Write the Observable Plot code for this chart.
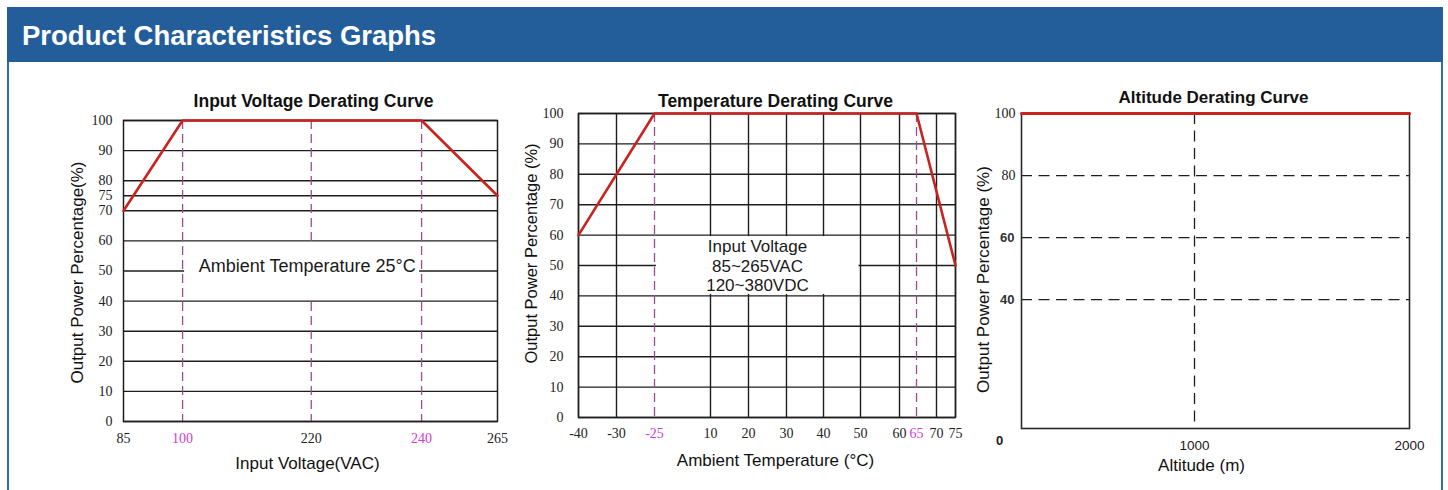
<!DOCTYPE html>
<html>
<head>
<meta charset="utf-8">
<script src="https://cdn.jsdelivr.net/npm/d3@7"></script>
<script src="https://cdn.jsdelivr.net/npm/@observablehq/plot@0.6"></script>
<style>
  html, body { margin: 0; padding: 0; background: #fff; }
  body { width: 1448px; height: 490px; overflow: hidden; position: relative; font-family: "Liberation Sans", Arial, sans-serif; }
  #header { position: absolute; left: 7px; top: 7px; width: 1436px; height: 55px; background: #235e9b; color: #fff;
            font-weight: bold; font-size: 27.5px; line-height: 55px; box-sizing: border-box; padding-left: 15px; padding-top: 1px; }
  .side { position: absolute; top: 62px; width: 2px; height: 430px; background: #2f6db2; }
  .chart { position: absolute; top: 80px; }
  .chart svg { display: block; max-width: none; }
</style>
</head>
<body>
<div id="header">Product Characteristics Graphs</div>
<div class="side" style="left:7px"></div>
<div class="side" style="left:1441px"></div>
<div class="chart" id="c1" style="left:60px;width:450px"></div>
<div class="chart" id="c2" style="left:510px;width:460px"></div>
<div class="chart" id="c3" style="left:970px;width:470px"></div>
<script>
// ---------------- DATA ----------------
// Chart 1: Input Voltage Derating Curve
const voltTitle = "Input Voltage Derating Curve";
const voltXLabel = "Input Voltage(VAC)";
const voltYLabel = "Output Power Percentage(%)";
const voltCurveX = [85, 100, 240, 265];
const voltCurveY = [70, 100, 100, 75];
const voltXTicks = [85, 100, 220, 240, 265];
const voltXHighlight = [100, 240];
const voltDashed = [100, 220, 240];
const voltYTicks = [0, 10, 20, 30, 40, 50, 60, 70, 75, 80, 90, 100];
const voltNote = "Ambient Temperature 25°C";

// Chart 2: Temperature Derating Curve
const tempTitle = "Temperature Derating Curve";
const tempXLabel = "Ambient Temperature (°C)";
const tempYLabel = "Output Power Percentage (%)";
const tempCurveX = [-40, -25, 65, 75];
const tempCurveY = [60, 100, 100, 50];
const tempXTicks = [-40, -30, -25, 10, 20, 30, 40, 50, 60, 65, 70, 75];
const tempXHighlight = [-25, 65];
const tempYTicks = [0, 10, 20, 30, 40, 50, 60, 70, 80, 90, 100];
const tempNote = ["Input Voltage", "85~265VAC", "120~380VDC"];

// Chart 3: Altitude Derating Curve
const altTitle = "Altitude Derating Curve";
const altXLabel = "Altitude (m)";
const altYLabel = "Output Power Percentage (%)";
const altCurveX = [0, 2000];
const altCurveY = [100, 100];
const altXTicks = [0, 1000, 2000];
const altYTicks = [100, 80, 60, 40];
const altDashedY = [80, 60, 40];
const altDashedX = [1000];

// ---------------- SCALE LAYOUT (printed axes are not evenly spaced) ----------------
const voltAxisStops = [0, 0.158, 0.502, 0.797, 1];
const tempAxisStops = [0, 0.1008, 0.2016, 0.3501, 0.4509, 0.5517, 0.6499, 0.748, 0.8515, 0.8966, 0.9496, 1];
const altAxisStops = [0, 0.4459, 1];

const C = {grid: "#1e1e1e", red: "#c9221f", purple: "#9b4b8e", magenta: "#d03cd4", text: "#1a1a1a"};
const serif = "'Liberation Serif','Times New Roman',serif";
const sans = "'Liberation Sans',Arial,sans-serif";
const svgStyle = {background: "transparent", overflow: "visible"};
const notIn = (arr) => (d) => !arr.includes(d);

// ---------------- CHART 1 ----------------
const vScale = d3.scaleLinear().domain(voltXTicks).range(voltAxisStops);
const chart1 = Plot.plot({
  width: 450, height: 400, marginLeft: 63, marginRight: 13, marginTop: 40, marginBottom: 59,
  style: svgStyle,
  x: {domain: [0, 1], transform: vScale, axis: null},
  y: {domain: [0, 100], axis: null},
  marks: [
    Plot.ruleY(voltYTicks, {y: d => d, stroke: C.grid, strokeWidth: 1.4}),
    Plot.ruleX(voltDashed, {x: d => d, stroke: C.purple, strokeWidth: 1.3, strokeDasharray: "9,5"}),
    Plot.rect([{x1: voltXHighlight[0], x2: voltXHighlight[1], y1: 40, y2: 60}],
      {x1: "x1", x2: "x2", y1: "y1", y2: "y2", fill: "white", insetLeft: 2, insetRight: 2, insetTop: 1.5, insetBottom: 1.5}),
    Plot.frame({stroke: C.grid, strokeWidth: 1.5}),
    Plot.text([voltNote], {text: d => d, x: 220, y: 50, dx: -4, dy: -5, fontSize: 18, fontFamily: sans, fill: C.text}),
    Plot.line(voltCurveX, {x: voltCurveX, y: voltCurveY, stroke: C.red, strokeWidth: 2.6}),
    Plot.text(voltYTicks, {y: d => d, text: d => String(d), frameAnchor: "left", textAnchor: "end", lineAnchor: "middle",
      dx: -11, fontSize: 14, fontFamily: serif, fill: "#222"}),
    Plot.text(voltXTicks.filter(notIn(voltXHighlight)), {x: d => d, text: d => String(d), frameAnchor: "bottom",
      textAnchor: "middle", lineAnchor: "middle", dy: 17, fontSize: 14, fontFamily: serif, fill: "#222"}),
    Plot.text(voltXHighlight, {x: d => d, text: d => String(d), frameAnchor: "bottom",
      textAnchor: "middle", lineAnchor: "middle", dy: 17, fontSize: 14, fontFamily: serif, fill: C.magenta}),
    Plot.text([voltTitle], {text: d => d, frameAnchor: "top", textAnchor: "middle", lineAnchor: "middle",
      dx: 3, dy: -19, fontSize: 17.5, fontWeight: "bold", fontFamily: sans, fill: "#111"}),
    Plot.text([voltXLabel], {text: d => d, frameAnchor: "bottom", textAnchor: "middle", lineAnchor: "middle",
      dx: -3, dy: 42, fontSize: 17, fontFamily: sans, fill: "#111"}),
    Plot.text([voltYLabel], {text: d => d, frameAnchor: "left", textAnchor: "middle", lineAnchor: "middle", rotate: -90,
      dx: -46, dy: 1.5, fontSize: 17, fontFamily: sans, fill: "#111"})
  ]
});
document.getElementById("c1").appendChild(chart1);

// ---------------- CHART 2 ----------------
const tScale = d3.scaleLinear().domain(tempXTicks).range(tempAxisStops);
const chart2 = Plot.plot({
  width: 460, height: 400, marginLeft: 68, marginRight: 15, marginTop: 33, marginBottom: 63,
  style: svgStyle,
  x: {domain: [0, 1], transform: tScale, axis: null},
  y: {domain: [0, 100], axis: null},
  marks: [
    Plot.ruleY(tempYTicks, {y: d => d, stroke: C.grid, strokeWidth: 1.4}),
    Plot.ruleX(tempXTicks.filter(notIn(tempXHighlight)), {x: d => d, stroke: C.grid, strokeWidth: 1.4}),
    Plot.ruleX(tempXHighlight, {x: d => d, stroke: C.purple, strokeWidth: 1.3, strokeDasharray: "9,5"}),
    Plot.rect([{x1: tempXHighlight[0], x2: 50, y1: 40, y2: 60}],
      {x1: "x1", x2: "x2", y1: "y1", y2: "y2", fill: "white", insetLeft: 2, insetRight: 1.5, insetTop: 1.5, insetBottom: 1.5}),
    Plot.frame({stroke: C.grid, strokeWidth: 1.5}),
    Plot.text([tempNote.join("\n")], {text: d => d, x: 20, y: 50, dx: 9, dy: 0, lineHeight: 1.13, fontSize: 17,
      fontFamily: sans, fill: C.text, textAnchor: "middle", lineAnchor: "middle"}),
    Plot.line(tempCurveX, {x: tempCurveX, y: tempCurveY, stroke: C.red, strokeWidth: 2.6}),
    Plot.text(tempYTicks, {y: d => d, text: d => String(d), frameAnchor: "left", textAnchor: "end", lineAnchor: "middle",
      dx: -15, fontSize: 14, fontFamily: serif, fill: "#222"}),
    Plot.text(tempXTicks.filter(notIn(tempXHighlight)), {x: d => d, text: d => String(d), frameAnchor: "bottom",
      textAnchor: "middle", lineAnchor: "middle", dy: 16, fontSize: 14, fontFamily: serif, fill: "#222"}),
    Plot.text(tempXHighlight, {x: d => d, text: d => String(d), frameAnchor: "bottom",
      textAnchor: "middle", lineAnchor: "middle", dy: 16, fontSize: 14, fontFamily: serif, fill: C.magenta}),
    Plot.text([tempTitle], {text: d => d, frameAnchor: "top", textAnchor: "middle", lineAnchor: "middle",
      dx: 8.5, dy: -12, fontSize: 17.5, fontWeight: "bold", fontFamily: sans, fill: "#111"}),
    Plot.text([tempXLabel], {text: d => d, frameAnchor: "bottom", textAnchor: "middle", lineAnchor: "middle",
      dx: 8.5, dy: 43, fontSize: 17, fontFamily: sans, fill: "#111"}),
    Plot.text([tempYLabel], {text: d => d, frameAnchor: "left", textAnchor: "middle", lineAnchor: "middle", rotate: -90,
      dx: -47, dy: -12, fontSize: 16.5, fontFamily: sans, fill: "#111"})
  ]
});
document.getElementById("c2").appendChild(chart2);

// ---------------- CHART 3 ----------------
const aScale = d3.scaleLinear().domain(altXTicks).range(altAxisStops);
const chart3 = Plot.plot({
  width: 470, height: 400, marginLeft: 51, marginRight: 31, marginTop: 33, marginBottom: 52,
  style: svgStyle,
  x: {domain: [0, 1], transform: aScale, axis: null},
  y: {domain: [-1.5, 100], axis: null},
  marks: [
    Plot.ruleY(altDashedY, {y: d => d, stroke: C.grid, strokeWidth: 1.3, strokeDasharray: "11,6.5"}),
    Plot.ruleX(altDashedX, {x: d => d, stroke: C.grid, strokeWidth: 1.3, strokeDasharray: "11,6.5"}),
    Plot.frame({stroke: "#2a2a2a", strokeWidth: 1.6}),
    Plot.line(altCurveX, {x: altCurveX, y: altCurveY, stroke: C.red, strokeWidth: 3}),
    Plot.text(altYTicks.filter(d => d >= 80), {y: d => d, text: d => String(d), frameAnchor: "left", textAnchor: "end",
      lineAnchor: "middle", dx: -6, fontSize: 14, fontFamily: serif, fill: "#222"}),
    Plot.text(altYTicks.filter(d => d < 80), {y: d => d, text: d => String(d), frameAnchor: "left", textAnchor: "end",
      lineAnchor: "middle", dx: -7, fontSize: 13, fontWeight: "bold", fontFamily: sans, fill: "#333"}),
    Plot.text(altXTicks.filter(d => d > 0), {x: d => d, text: d => String(d), frameAnchor: "bottom",
      textAnchor: "middle", lineAnchor: "middle", dy: 17, fontSize: 13.5, fontFamily: sans, fill: "#1a1a1a"}),
    Plot.text(altXTicks.filter(d => d === 0), {x: d => d, text: d => String(d), frameAnchor: "bottom",
      textAnchor: "middle", lineAnchor: "middle", dx: -22, dy: 12, fontSize: 13, fontWeight: "bold", fontFamily: sans, fill: "#1a1a1a"}),
    Plot.text([altTitle], {text: d => d, frameAnchor: "top", textAnchor: "middle", lineAnchor: "middle",
      dx: -2, dy: -16, fontSize: 17, fontWeight: "bold", fontFamily: sans, fill: "#111"}),
    Plot.text([altXLabel], {text: d => d, frameAnchor: "bottom", textAnchor: "middle", lineAnchor: "middle",
      dx: -14, dy: 37, fontSize: 17, fontFamily: sans, fill: "#111"}),
    Plot.text([altYLabel], {text: d => d, frameAnchor: "left", textAnchor: "middle", lineAnchor: "middle", rotate: -90,
      dx: -38, dy: 8.5, fontSize: 17, fontFamily: sans, fill: "#111"})
  ]
});
document.getElementById("c3").appendChild(chart3);
</script>
</body>
</html>
